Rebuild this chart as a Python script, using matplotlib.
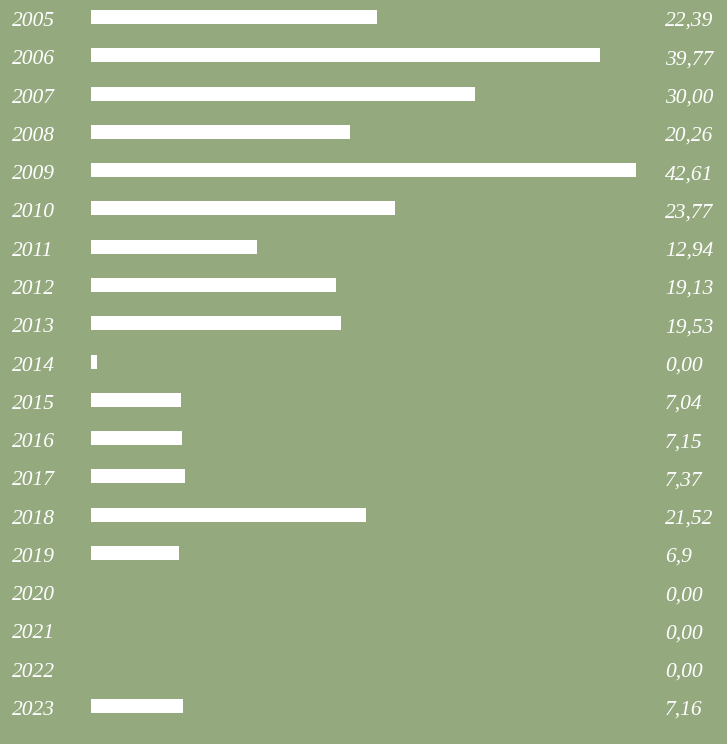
import matplotlib.pyplot as plt
import matplotlib.transforms as mtransforms

years = ['2005', '2006', '2007', '2008', '2009', '2010', '2011', '2012', '2013', '2014',
         '2015', '2016', '2017', '2018', '2019', '2020', '2021', '2022', '2023']
values = [22.39, 39.77, 30.00, 20.26, 42.61, 23.77, 12.94, 19.13, 19.53, 0.5,
          7.04, 7.15, 7.37, 21.52, 6.9, 0, 0, 0, 7.16]
labels = ['22,39', '39,77', '30,00', '20,26', '42,61', '23,77', '12,94', '19,13', '19,53', '0,00',
          '7,04', '7,15', '7,37', '21,52', '6,9', '0,00', '0,00', '0,00', '7,16']

bg = '#95a97f'
W, H = 727, 744
fig = plt.figure(figsize=(W / 100, H / 100), dpi=100, facecolor=bg)
ax = fig.add_axes([0, 0, 1, 1])
ax.set_facecolor(bg)

scale = 12.79   # px per unit
x0 = 91         # px where bars start
row0, step = 17, 38.28
ax.set_xlim(-x0 / scale, (W - x0) / scale)
ax.set_ylim((H - row0) / step, -row0 / step)

pos = list(range(len(years)))
ax.barh(pos, values, height=14 / step, color='white', left=0)

# baseline sits about 9px below the bar centre
trans = mtransforms.blended_transform_factory(ax.transAxes, ax.transData)
trans = trans + mtransforms.ScaledTranslation(0, -9 / 100, fig.dpi_scale_trans)
font = dict(family='Liberation Serif', style='italic', size=15.5, color='white', va='baseline')
for i in pos:
    ax.text(12 / W, i, years[i], transform=trans, ha='left', **font)
    ax.text(665 / W, i, labels[i], transform=trans, ha='left', **font)

ax.axis('off')
fig.savefig('out.png', dpi=100, facecolor=bg)
